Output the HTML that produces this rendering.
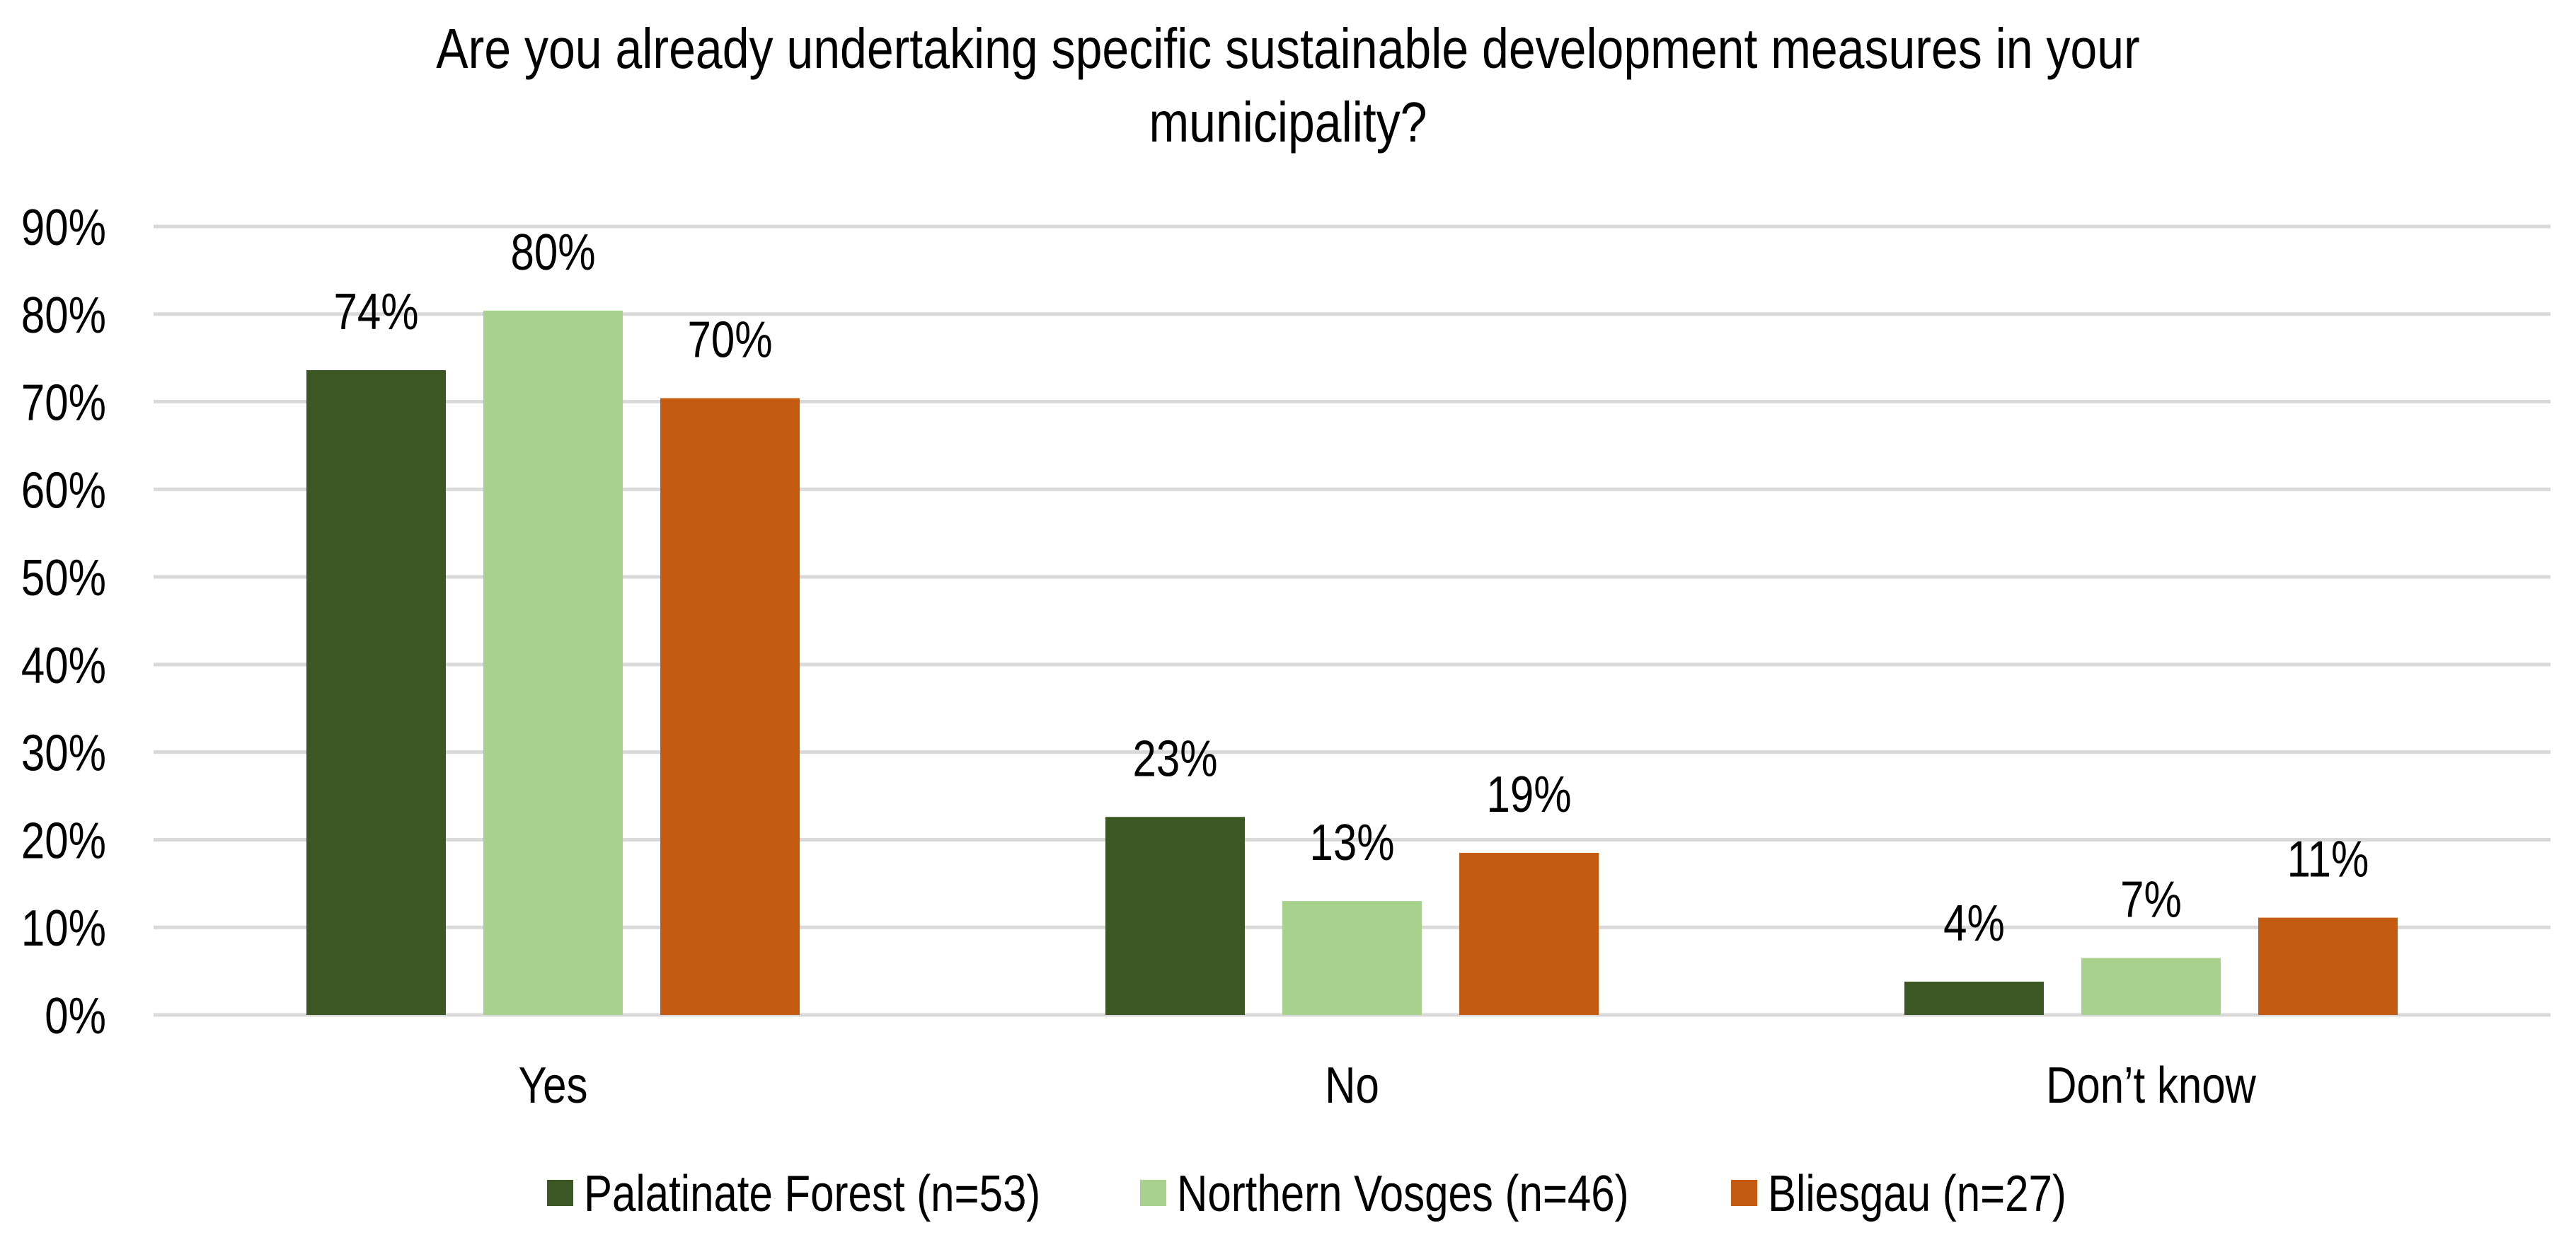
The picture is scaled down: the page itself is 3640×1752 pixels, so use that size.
<!DOCTYPE html>
<html><head><meta charset="utf-8"><style>
html,body{margin:0;padding:0;background:#fff;}
svg{display:block;font-family:"Liberation Sans",Arial,sans-serif;}
</style></head><body>
<svg id="chart" width="3640" height="1752" viewBox="0 0 3640 1752">
<g font-size="68" text-anchor="middle" fill="#000">
<text transform="translate(1820,96) scale(1,1.18)">Are you already undertaking specific sustainable development measures in your</text>
<text transform="translate(1820,200) scale(1,1.18)">municipality?</text>
</g>
<g id="grid"></g><g id="yticks"></g><g id="bars"></g><g id="labels"></g><g id="xcats"></g>
<g id="legend"></g>
</svg>
<script>
const categories = ["Yes", "No", "Don\u2019t know"];
const seriesNames = ["Palatinate Forest (n=53)", "Northern Vosges (n=46)", "Bliesgau (n=27)"];
const seriesColors = ["#3b5724", "#a9d18e", "#c55a11"];
const palatinate = [73.6, 22.6, 3.8];
const vosges = [80.4, 13.0, 6.5];
const bliesgau = [70.4, 18.5, 11.1];
const valueLabels = [["74%","23%","4%"],["80%","13%","7%"],["70%","19%","11%"]];
const yTicks = [0,10,20,30,40,50,60,70,80,90];
const series = [palatinate, vosges, bliesgau];

const NS = "http://www.w3.org/2000/svg";
const plotL = 217, plotR = 3604, y0 = 1434, y90 = 320;
const y = v => y0 - (v/90)*(y0-y90);
const catW = (plotR-plotL)/categories.length;
const barW = 197, step = 250;
const SY = 1.2;
const x = (ci, si) => plotL + catW*(ci+0.5) + (si-1)*step - barW/2;
function mk(tag, attrs, parent){const e=document.createElementNS(NS,tag);for(const k in attrs)e.setAttribute(k,attrs[k]);parent.appendChild(e);return e;}
function tr(px,py){return 'translate('+px+','+py+') scale(1,'+SY+')';}
const grid=document.getElementById('grid'), yt=document.getElementById('yticks');
yTicks.forEach(t=>{
  const l=mk('line',{x1:plotL,x2:plotR,y1:y(t),y2:y(t),stroke:'#d9d9d9','stroke-width':5},grid);
  
  
  const tx=mk('text',{transform:tr(150,y(t)+26),'font-size':60,'text-anchor':'end',fill:'#000'},yt);
  tx.textContent=t+'%';
  
  
});
const bars=document.getElementById('bars'), labs=document.getElementById('labels'), xc=document.getElementById('xcats');
categories.forEach((c,ci)=>{
  series.forEach((s,si)=>{
    const r=mk('rect',{x:x(ci,si),y:y(s[ci]),width:barW,height:y0-y(s[ci]),fill:seriesColors[si]},bars);
    
    
    const t=mk('text',{transform:tr(x(ci,si)+barW/2,y(s[ci])-58),'font-size':60,'text-anchor':'middle',fill:'#000'},labs);
    t.textContent=valueLabels[si][ci];
    
    
  });
  const t=mk('text',{transform:tr(plotL+catW*(ci+0.5),1558),'font-size':60,'text-anchor':'middle',fill:'#000'},xc);
  t.textContent=c;
  
  
});
const lg=document.getElementById('legend');


const legX=[773,1611,2446];
seriesNames.forEach((n,i)=>{
  const g=mk('g',{},lg);
  
  
  mk('rect',{x:legX[i],y:1667,width:37,height:37,fill:seriesColors[i]},g);
  const t=mk('text',{transform:tr(legX[i]+52,1711),'font-size':60,fill:'#000'},g);
  t.textContent=n;
});
</script>
</body></html>
